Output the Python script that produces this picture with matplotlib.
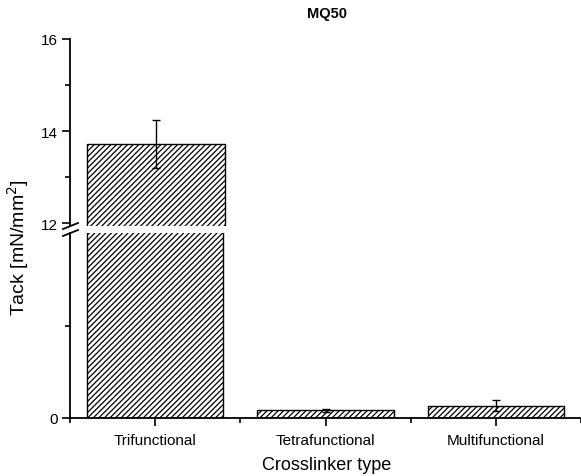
import matplotlib
matplotlib.use("Agg")
import matplotlib.pyplot as plt
from matplotlib.lines import Line2D

plt.rcParams['font.family'] = ['Liberation Sans', 'DejaVu Sans']
plt.rcParams['hatch.linewidth'] = 0.9

categories = ["Trifunctional", "Tetrafunctional", "Multifunctional"]
tack = [13.72, 0.083, 0.131]
tack_err = [0.52, 0.015, 0.06]
x = [1, 2, 3]

W, H = 581, 477
fig = plt.figure(figsize=(W / 100, H / 100), dpi=100)

def frac_x(px):
    return px / W

def frac_y(py):
    return 1 - py / H

left = frac_x(70)
right = 1.0
# upper part 12..16, lower part 0..2
ax_top = fig.add_axes([left, frac_y(227), right - left, frac_y(40) - frac_y(227)])
ax_bot = fig.add_axes([left, frac_y(419), right - left, frac_y(234) - frac_y(419)])

for ax in (ax_top, ax_bot):
    ax.bar(x, tack, width=0.8, color="white", edgecolor="black", linewidth=1.0,
           hatch="//////")
    ax.errorbar(x, tack, yerr=tack_err, fmt="none", ecolor="black",
                elinewidth=1.0, capsize=3, capthick=1.0)
    ax.set_xlim(0.5, 3.47)
    ax.spines["top"].set_visible(False)
    ax.spines["right"].set_visible(False)
    ax.spines["left"].set_linewidth(1.3)
    ax.tick_params(axis="y", which="major", direction="out", length=6, width=1.2,
                   labelsize=11, pad=3)
    ax.tick_params(axis="y", which="minor", direction="out", length=3.5, width=1.2)

ax_top.set_ylim(11.935, 16)
ax_top.set_yticks([12, 14, 16])
ax_top.set_yticks([13, 15], minor=True)
ax_top.spines["bottom"].set_visible(False)
ax_top.tick_params(axis="x", which="both", bottom=False, labelbottom=False)

ax_bot.set_ylim(0, 2.0)
ax_bot.set_yticks([0])
ax_bot.set_yticks([1], minor=True)
ax_bot.spines["bottom"].set_linewidth(1.3)
ax_bot.set_xticks(x)
ax_bot.set_xticklabels(categories)
ax_bot.set_xticks([0.5, 1.5, 2.5, 3.5], minor=True)
ax_bot.tick_params(axis="x", which="major", direction="out", length=6, width=1.2,
                   labelsize=11, pad=5)
ax_bot.tick_params(axis="x", which="minor", direction="out", length=3.5, width=1.2)

# break marks on the y axis
for py in (227, 234):
    fig.add_artist(Line2D([frac_x(63), frac_x(78)], [frac_y(py + 3), frac_y(py - 3)],
                          color="black", linewidth=1.3, transform=fig.transFigure))

fig.text(frac_x(327), frac_y(14), "MQ50", ha="center", va="center",
         fontsize=10.5, fontweight="bold")
fig.text(frac_x(327), frac_y(466), "Crosslinker type", ha="center", va="center",
         fontsize=13)
fig.text(frac_x(18), frac_y(248), "Tack [mN/mm$^2$]", ha="center", va="center",
         fontsize=14, rotation=90)

fig.savefig("out.png", dpi=100)
